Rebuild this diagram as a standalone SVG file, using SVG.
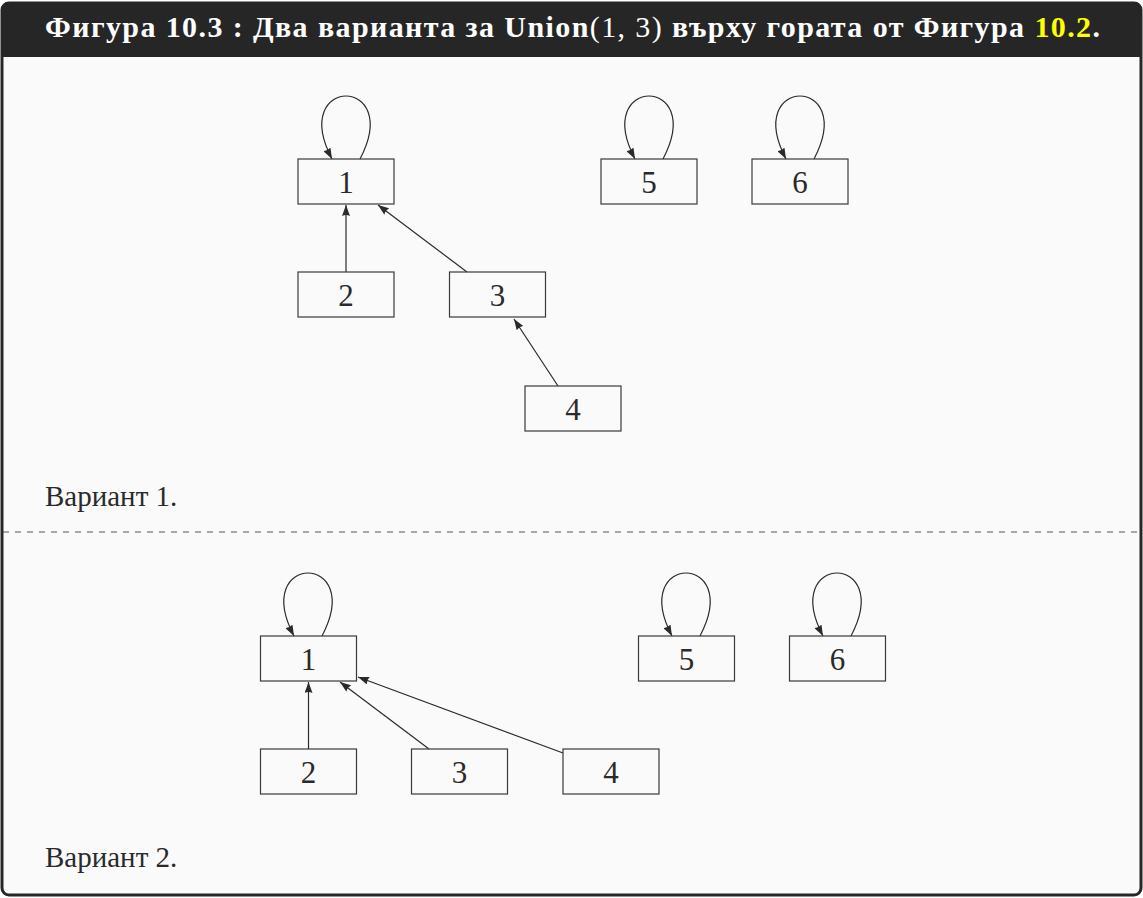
<svg xmlns="http://www.w3.org/2000/svg" width="1143" height="898" viewBox="0 0 1143 898">
<style>
.box{fill:none;stroke:#3a3a3a;stroke-width:1.2}
.lbl{font-family:"Liberation Serif","DejaVu Serif",serif;font-size:31px;fill:#2a2a2a;text-anchor:middle}
.cap{font-family:"Liberation Serif","DejaVu Serif",serif;font-size:29px;fill:#2a2a2a}
.edge{fill:none;stroke:#2a2a2a;stroke-width:1.2;marker-end:url(#arr)}
.title{font-family:"Liberation Serif","DejaVu Serif",serif;font-size:30px;fill:#ffffff;font-weight:bold}
</style>
<defs>
<marker id="arr" viewBox="0 0 11 8" refX="11" refY="4" markerWidth="11" markerHeight="8" markerUnits="userSpaceOnUse" orient="auto">
<path d="M0,0 L11,4 L0,8 Q2,4 0,0 z" fill="#2a2a2a"/>
</marker>
</defs>
<rect x="2" y="3" width="1139" height="892" rx="7" fill="#fafafa" stroke="#262626" stroke-width="3"/>
<path d="M2,57 L2,10 Q2,3 9,3 L1134,3 Q1141,3 1141,10 L1141,57 z" fill="#262626"/>
<text class="title" x="45" y="37" textLength="1055" lengthAdjust="spacing">Фигура 10.3 : Два варианта за Union<tspan font-weight="normal">(1, 3)</tspan> върху гората от Фигура <tspan fill="#ffff00">10.2</tspan>.</text>
<line x1="3" y1="532" x2="1140" y2="532" stroke="#555" stroke-width="1.2" stroke-dasharray="6,6"/>
<text class="cap" x="45" y="506">Вариант 1.</text>
<text class="cap" x="45" y="867">Вариант 2.</text>
<g id="connectors">
<path class="edge" d="M346,272 L346,205"/>
<path class="edge" d="M467,272 L378,205"/>
<path class="edge" d="M558,386 L514,319"/>
<path class="edge" d="M360,159 C404,75 288,75 332,159"/>
<path class="edge" d="M663,159 C707,75 591,75 635,159"/>
<path class="edge" d="M814,159 C858,75 742,75 786,159"/>
<path class="edge" d="M308.5,749 L308.5,682"/>
<path class="edge" d="M429,749 L340,682"/>
<path class="edge" d="M563,753 L358,677"/>
<path class="edge" d="M322,636 C366,552 250,552 294,636"/>
<path class="edge" d="M700,636 C744,552 628,552 672,636"/>
<path class="edge" d="M851,636 C895,552 779,552 823,636"/>
</g>
<g id="v1-n1"><rect class="box" x="298" y="159" width="96" height="45"/><text class="lbl" x="346" y="192.5">1</text></g>
<g id="v1-n2"><rect class="box" x="298" y="272" width="96" height="45"/><text class="lbl" x="346" y="305.5">2</text></g>
<g id="v1-n3"><rect class="box" x="449.5" y="272" width="96" height="45"/><text class="lbl" x="497.5" y="305.5">3</text></g>
<g id="v1-n4"><rect class="box" x="525" y="386" width="96" height="45"/><text class="lbl" x="573" y="419.5">4</text></g>
<g id="v1-n5"><rect class="box" x="601" y="159" width="96" height="45"/><text class="lbl" x="649" y="192.5">5</text></g>
<g id="v1-n6"><rect class="box" x="752" y="159" width="96" height="45"/><text class="lbl" x="800" y="192.5">6</text></g>
<g id="v2-n1"><rect class="box" x="260.5" y="636" width="96" height="45"/><text class="lbl" x="308.5" y="669.5">1</text></g>
<g id="v2-n2"><rect class="box" x="260.5" y="749" width="96" height="45"/><text class="lbl" x="308.5" y="782.5">2</text></g>
<g id="v2-n3"><rect class="box" x="411.5" y="749" width="96" height="45"/><text class="lbl" x="459.5" y="782.5">3</text></g>
<g id="v2-n4"><rect class="box" x="563" y="749" width="96" height="45"/><text class="lbl" x="611" y="782.5">4</text></g>
<g id="v2-n5"><rect class="box" x="638.5" y="636" width="96" height="45"/><text class="lbl" x="686.5" y="669.5">5</text></g>
<g id="v2-n6"><rect class="box" x="789.5" y="636" width="96" height="45"/><text class="lbl" x="837.5" y="669.5">6</text></g>
</svg>
